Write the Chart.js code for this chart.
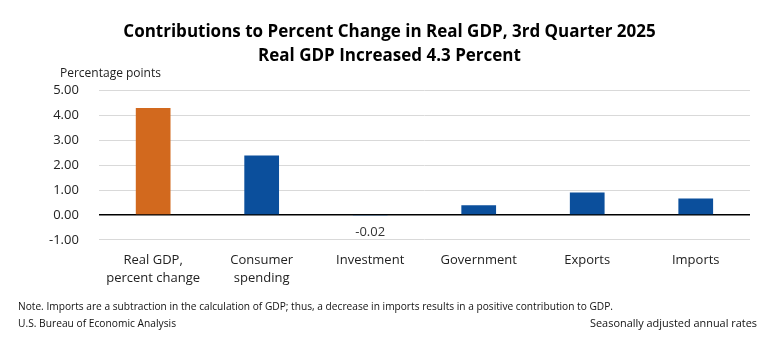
<!DOCTYPE html>
<html>
<head>
<meta charset="utf-8">
<script src="https://cdn.jsdelivr.net/npm/chart.js@4"></script>
<style>
  html, body { margin: 0; padding: 0; background: #fff; }
  #wrap { position: relative; width: 768px; height: 343px; }
</style>
</head>
<body>
<div id="wrap"><canvas id="chart" width="768" height="343"></canvas></div>
<script>
const categories = [["Real GDP,", "percent change"], ["Consumer", "spending"], "Investment", "Government", "Exports", "Imports"];
const contributions = [4.30, 2.39, -0.02, 0.39, 0.90, 0.66];
const barColors = ["#d2691e", "#0b4f9c", "#0b4f9c", "#0b4f9c", "#0b4f9c", "#0b4f9c"];
const yTicks = [-1, 0, 1, 2, 3, 4, 5];
const titleLines = ["Contributions to Percent Change in Real GDP, 3rd Quarter 2025", "Real GDP Increased 4.3 Percent"];
const noteText = "Note. Imports are a subtraction in the calculation of GDP; thus, a decrease in imports results in a positive contribution to GDP.";
const sourceText = "U.S. Bureau of Economic Analysis";
const ratesText = "Seasonally adjusted annual rates";

const fontFamily = "'Open Sans', 'Noto Sans', sans-serif";

// draw text squeezed to a given width (the original uses a narrow font)
function narrowText(ctx, text, x, y, width, align) {
  const w = ctx.measureText(text).width;
  const s = Math.min(1, width / w);
  ctx.save();
  ctx.translate(x, y);
  ctx.scale(s, 1);
  ctx.textAlign = align;
  ctx.fillText(text, 0, 0);
  ctx.restore();
}

// extra text: axis unit, the -0.02 label, and the footer lines
const extras = {
  id: "extras",
  afterDraw(chart) {
    const ctx = chart.ctx;
    const y = chart.scales.y;
    const x = chart.scales.x;
    ctx.save();
    ctx.fillStyle = "#222";
    ctx.font = "12px " + fontFamily;
    ctx.textBaseline = "middle";
    ctx.textAlign = "left";
    ctx.fillText("Percentage points", 60, 74);
    // label for the tiny negative bar
    const i = 2;
    ctx.textAlign = "center";
    ctx.font = "13px " + fontFamily;
    ctx.fillStyle = "#333";
    ctx.fillText(contributions[i].toFixed(2), x.getPixelForValue(i), y.getPixelForValue(contributions[i]) + 17);
    ctx.font = "11px " + fontFamily;
    ctx.fillStyle = "#111";
    narrowText(ctx, noteText, 18, 307, 595, "left");
    narrowText(ctx, sourceText, 18, 324, 158, "left");
    narrowText(ctx, ratesText, 757, 324, 167, "right");
    ctx.restore();
  }
};

new Chart(document.getElementById("chart"), {
  type: "bar",
  data: {
    labels: categories,
    datasets: [{
      data: contributions,
      backgroundColor: barColors,
      barPercentage: 0.64,
      categoryPercentage: 0.5
    }]
  },
  options: {
    responsive: false,
    animation: false,
    layout: { padding: { left: 29, right: 18, top: 2, bottom: 44 } },
    plugins: {
      legend: { display: false },
      tooltip: { enabled: false },
      title: {
        display: true,
        text: titleLines,
        color: "#000",
        font: { family: fontFamily, size: 17, weight: "bold", lineHeight: 1.4 },
        padding: { top: 18, bottom: 23 }
      }
    },
    scales: {
      x: {
        grid: { display: false, drawTicks: false },
        border: { display: false },
        ticks: { color: "#222", font: { family: fontFamily, size: 13, lineHeight: 1.35 }, padding: 12, maxRotation: 0 }
      },
      y: {
        min: -1,
        max: 5,
        afterBuildTicks(axis) { axis.ticks = yTicks.map(v => ({ value: v })); },
        grid: {
          color: ctx => ctx.tick && ctx.tick.value === 0 ? "#000" : "#d9d9d9",
          lineWidth: ctx => ctx.tick && ctx.tick.value === 0 ? 1.5 : 1,
          drawTicks: false
        },
        border: { display: false },
        ticks: {
          color: "#222",
          font: { family: fontFamily, size: 13 },
          padding: 20,
          callback: v => v.toFixed(2)
        }
      }
    }
  },
  plugins: [extras]
});
</script>
</body>
</html>
